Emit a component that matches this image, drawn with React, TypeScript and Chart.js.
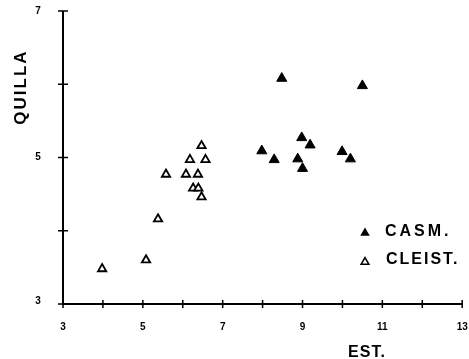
import React, { useEffect, useRef } from "react";
import { Chart, registerables } from "chart.js";

Chart.register(...registerables);

// CASM. (filled triangles)
const casmX = [8.48, 10.5, 8.98, 9.19, 7.98, 8.29, 8.88, 9.0, 9.99, 10.2];
const casmY = [6.08, 5.98, 5.27, 5.17, 5.09, 4.97, 4.98, 4.85, 5.08, 4.98];
// CLEIST. (open triangles)
const cleistX = [6.47, 6.18, 6.57, 5.58, 6.08, 6.38, 6.26, 6.39, 6.47, 5.38, 3.98, 5.08];
const cleistY = [5.16, 4.97, 4.97, 4.77, 4.77, 4.77, 4.58, 4.58, 4.46, 4.16, 3.48, 3.6];

const xTickValues = [3, 4, 5, 6, 7, 8, 9, 10, 11, 12, 13];
const xTickLabels = ["3", "5", "7", "9", "11", "13"];
const yTickValues = [3, 4, 5, 6, 7];
const yTickLabels = ["3", "5", "7"];
const xTitle = "EST.";
const yTitle = "QUILLA";
const seriesNames = ["CASM.", "CLEIST."];

const FONT = "'Liberation Sans', Arial, sans-serif";

const customPlugin = {
  id: "custom",
  beforeDraw(chart: any) {
    const ctx = chart.ctx;
    ctx.save();
    ctx.fillStyle = "#fff";
    ctx.fillRect(0, 0, chart.width, chart.height);
    const xs = chart.scales.x;
    const ys = chart.scales.y;
    const x0 = xs.getPixelForValue(3);
    const x1 = xs.getPixelForValue(13);
    const y0 = ys.getPixelForValue(3);
    const y1 = ys.getPixelForValue(7);
    ctx.strokeStyle = "#000";
    ctx.lineWidth = 2;
    ctx.beginPath();
    ctx.moveTo(x0, y1);
    ctx.lineTo(x0, y0);
    ctx.lineTo(x1, y0);
    ctx.stroke();
    ctx.lineWidth = 1.5;
    ctx.beginPath();
    xTickValues.forEach((v) => {
      const p = xs.getPixelForValue(v);
      ctx.moveTo(p, y0 - 4);
      ctx.lineTo(p, y0 + 4);
    });
    yTickValues.forEach((v) => {
      const p = ys.getPixelForValue(v);
      ctx.moveTo(x0 - 5, p);
      ctx.lineTo(x0 + 5, p);
    });
    ctx.stroke();

    ctx.fillStyle = "#000";
    ctx.font = `bold 10px ${FONT}`;
    ctx.textAlign = "center";
    ctx.textBaseline = "middle";
    xTickLabels.forEach((l) => {
      ctx.fillText(l, xs.getPixelForValue(Number(l)), y0 + 23);
    });
    yTickLabels.forEach((l) => {
      ctx.fillText(l, x0 - 25, ys.getPixelForValue(Number(l)) + (l === "3" ? -3 : 0));
    });

    // axis titles
    (ctx as any).letterSpacing = "1px";
    ctx.font = `bold 16px ${FONT}`;
    ctx.fillText(xTitle, 367, 353);
    ctx.save();
    ctx.translate(21, 87);
    ctx.rotate(-Math.PI / 2);
    (ctx as any).letterSpacing = "2px";
    ctx.font = `bold 17px ${FONT}`;
    ctx.fillText(yTitle, 0, 0);
    ctx.restore();

    // legend
    const tri = (cx: number, cy: number, r: number, fill: boolean) => {
      ctx.beginPath();
      let rad = 0;
      ctx.moveTo(cx + Math.sin(rad) * r, cy - Math.cos(rad) * r);
      rad += (2 * Math.PI) / 3;
      ctx.lineTo(cx + Math.sin(rad) * r, cy - Math.cos(rad) * r);
      rad += (2 * Math.PI) / 3;
      ctx.lineTo(cx + Math.sin(rad) * r, cy - Math.cos(rad) * r);
      ctx.closePath();
      if (fill) {
        ctx.fillStyle = "#000";
        ctx.fill();
      } else {
        ctx.fillStyle = "#fff";
        ctx.fill();
        ctx.lineWidth = 1.5;
        ctx.strokeStyle = "#000";
        ctx.stroke();
      }
    };
    tri(365, 233, 5.5, true);
    tri(365, 262, 4.5, false);
    ctx.fillStyle = "#000";
    ctx.textAlign = "left";
    ctx.font = `bold 16px ${FONT}`;
    (ctx as any).letterSpacing = "3px";
    ctx.fillText(seriesNames[0], 385, 232);
    (ctx as any).letterSpacing = "2px";
    ctx.fillText(seriesNames[1], 386, 260);
    ctx.restore();
  },
};

export default function App() {
  const ref = useRef<HTMLCanvasElement>(null);
  useEffect(() => {
    document.body.style.margin = "0";
    const chart = new Chart(ref.current!, {
      type: "scatter",
      data: {
        datasets: [
          {
            label: seriesNames[0],
            data: casmX.map((x, i) => ({ x, y: casmY[i] })),
            pointStyle: "triangle",
            pointRadius: 5.8,
            backgroundColor: "#000",
            borderColor: "#000",
            borderWidth: 1,
          },
          {
            label: seriesNames[1],
            data: cleistX.map((x, i) => ({ x, y: cleistY[i] })),
            pointStyle: "triangle",
            pointRadius: 4.8,
            backgroundColor: "#fff",
            borderColor: "#000",
            borderWidth: 1.8,
          },
        ],
      },
      options: {
        animation: false,
        responsive: false,
        layout: { padding: { left: 63, right: 4, top: 11, bottom: 55 } },
        plugins: { legend: { display: false }, tooltip: { enabled: false } },
        scales: {
          x: { type: "linear", min: 3, max: 13, display: false },
          y: { type: "linear", min: 3, max: 7, display: false },
        },
      },
      plugins: [customPlugin],
    });
    return () => chart.destroy();
  }, []);
  return <canvas ref={ref} width={469} height={359} style={{ display: "block" }} />;
}
